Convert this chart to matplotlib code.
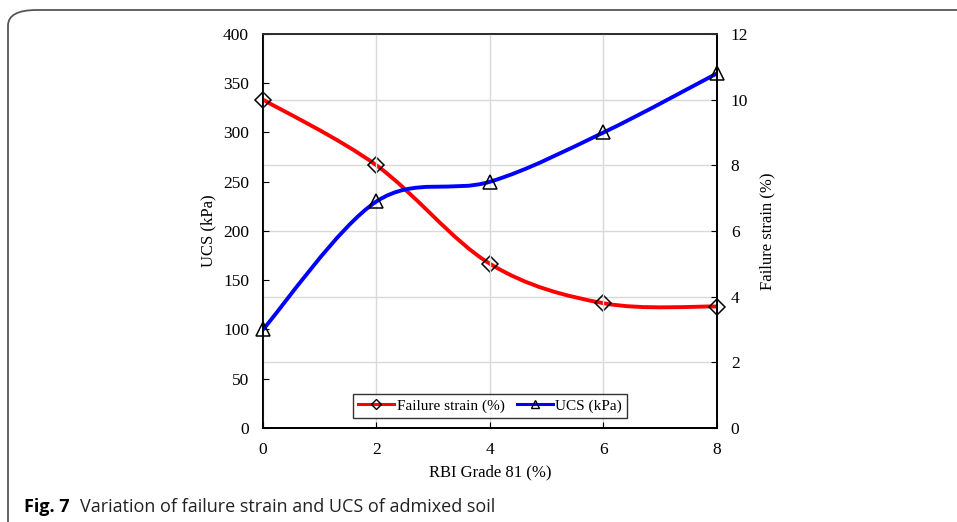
import numpy as np
import matplotlib.pyplot as plt
from matplotlib.path import Path
from matplotlib.patches import PathPatch, FancyBboxPatch
from matplotlib.lines import Line2D

# -----------------------------
# Data
# -----------------------------
rbi_content = [0, 2, 4, 6, 8]
ucs_kpa = [100, 230, 250, 300, 360]
failure_strain = [10.0, 8.0, 5.0, 3.8, 3.7]

x_ticks = [0, 2, 4, 6, 8]
ucs_ticks = [0, 50, 100, 150, 200, 250, 300, 350, 400]
strain_ticks = [0, 2, 4, 6, 8, 10, 12]


def smooth_path(xs, ys):
    # Excel-like smoothed line: Catmull-Rom style cubic Bezier segments
    pts = np.column_stack([xs, ys]).astype(float)
    n = len(pts)
    verts = [pts[0]]
    codes = [Path.MOVETO]
    for i in range(n - 1):
        p0 = pts[max(i - 1, 0)]
        p1 = pts[i]
        p2 = pts[i + 1]
        p3 = pts[min(i + 2, n - 1)]
        c1 = p1 + (p2 - p0) / 6.0
        c2 = p2 - (p3 - p1) / 6.0
        verts += [c1, c2, p2]
        codes += [Path.CURVE4] * 3
    return Path(verts, codes)


plt.rcParams["font.family"] = "Liberation Serif"
plt.rcParams["font.size"] = 12

fig = plt.figure(figsize=(9.57, 5.22), dpi=100)

# rounded frame of the figure panel
frame = FancyBboxPatch(
    (8 / 957, -0.2), 1.2, 1.2 - 10 / 522,
    boxstyle="round,pad=0,rounding_size=0.03",
    transform=fig.transFigure,
    facecolor="none",
    edgecolor="#555555",
    linewidth=1.3,
)
fig.patches.append(frame)

ax = fig.add_axes([0.2748, 0.1801, 0.4744, 0.7548])
ax2 = ax.twinx()

# keep the UCS axes on top so the horizontal grid sits behind the curves
ax.set_zorder(ax2.get_zorder() + 1)
ax.patch.set_visible(False)

# -----------------------------
# Failure strain (right axis)
# -----------------------------
ax2.add_patch(PathPatch(
    smooth_path(rbi_content, failure_strain),
    facecolor="none",
    edgecolor="#ff0000",
    linewidth=2.8,
    capstyle="round",
))
ax2.plot(
    rbi_content,
    failure_strain,
    linestyle="none",
    marker="D",
    markersize=8,
    markerfacecolor="none",
    markeredgecolor="black",
    markeredgewidth=1.1,
    clip_on=False,
)

# -----------------------------
# UCS (left axis)
# -----------------------------
ax.add_patch(PathPatch(
    smooth_path(rbi_content, ucs_kpa),
    facecolor="none",
    edgecolor="#0000ff",
    linewidth=2.8,
    capstyle="round",
))
ax.plot(
    rbi_content,
    ucs_kpa,
    linestyle="none",
    marker="^",
    markersize=10,
    markerfacecolor="none",
    markeredgecolor="black",
    markeredgewidth=1.1,
    clip_on=False,
)

# -----------------------------
# Axes formatting
# -----------------------------
ax.set_xlim(0, 8)
ax.set_ylim(0, 400)
ax2.set_ylim(0, 12)

ax.set_xticks(x_ticks)
ax.set_yticks(ucs_ticks)
ax2.set_yticks(strain_ticks)

ax.tick_params(axis="both", direction="in", length=4, width=0.8, pad=10, labelsize=12.5)
ax2.tick_params(axis="y", direction="in", length=4, width=0.8, pad=10, labelsize=12.5)

ax.xaxis.grid(True, color="#d9d9d9", linewidth=1)
ax2.yaxis.grid(True, color="#d9d9d9", linewidth=1)
ax.set_axisbelow(True)
ax2.set_axisbelow(True)

for a in (ax, ax2):
    for s in a.spines.values():
        s.set_linewidth(1.3)
        s.set_color("black")
ax.spines["top"].set_color("#333333")

ax.set_xlabel("RBI Grade 81 (%)", fontsize=12, labelpad=5)
ax.set_ylabel("UCS (kPa)", fontsize=12, labelpad=5)
ax2.set_ylabel("Failure strain (%)", fontsize=12, labelpad=8)

# -----------------------------
# Legend
# -----------------------------
handles = [
    Line2D([], [], color="#ff0000", linewidth=2.2, marker="D", markersize=5,
           markerfacecolor="none", markeredgecolor="black", markeredgewidth=1),
    Line2D([], [], color="#0000ff", linewidth=2.2, marker="^", markersize=6,
           markerfacecolor="none", markeredgecolor="black", markeredgewidth=1),
]
leg = ax.legend(
    handles,
    ["Failure strain (%)", "UCS (kPa)"],
    loc="lower center",
    bbox_to_anchor=(0.5, 0.025),
    ncol=2,
    fontsize=11,
    frameon=True,
    fancybox=False,
    edgecolor="black",
    borderaxespad=0,
    borderpad=0.35,
    handlelength=2.35,
    handletextpad=0.15,
    columnspacing=0.8,
)
leg.get_frame().set_linewidth(1)
leg.set_zorder(10)

# -----------------------------
# Caption
# -----------------------------
t1 = fig.text(24 / 957, 10 / 522, "Fig. 7", family="Open Sans",
              weight="bold", fontsize=13, va="baseline")
renderer = fig.canvas.get_renderer()
bb = t1.get_window_extent(renderer)
fig.text(bb.x1 / fig.bbox.width + 10 / 957, 10 / 522,
         "Variation of failure strain and UCS of admixed soil",
         family="Open Sans", fontsize=13, va="baseline", color="#222222")

fig.savefig("out.png", dpi=100)
